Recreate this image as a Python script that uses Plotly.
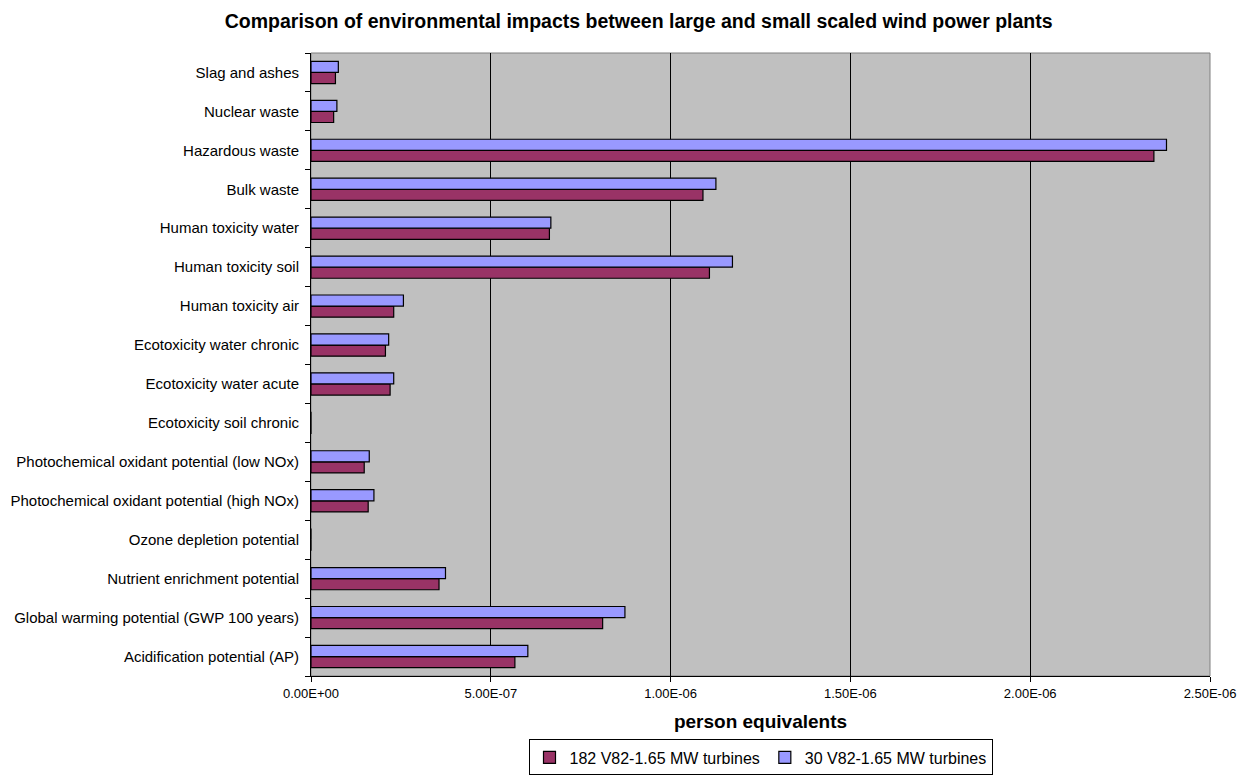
import plotly.graph_objects as go

# Impact categories (bottom to top)
categories = [
    "Acidification potential (AP)",
    "Global warming potential (GWP 100 years)",
    "Nutrient enrichment potential",
    "Ozone depletion potential",
    "Photochemical oxidant potential (high NOx)",
    "Photochemical oxidant potential (low NOx)",
    "Ecotoxicity soil chronic",
    "Ecotoxicity water acute",
    "Ecotoxicity water chronic",
    "Human toxicity air",
    "Human toxicity soil",
    "Human toxicity water",
    "Bulk waste",
    "Hazardous waste",
    "Nuclear waste",
    "Slag and ashes",
]

# person equivalents per category
large_plant = [5.67e-7, 8.11e-7, 3.56e-7, 0.0, 1.59e-7, 1.48e-7, 0.0, 2.20e-7,
               2.07e-7, 2.30e-7, 1.108e-6, 6.63e-7, 1.090e-6, 2.344e-6, 6.3e-8, 6.8e-8]
small_plant = [6.03e-7, 8.73e-7, 3.74e-7, 0.0, 1.75e-7, 1.62e-7, 0.0, 2.30e-7,
               2.16e-7, 2.57e-7, 1.172e-6, 6.67e-7, 1.126e-6, 2.379e-6, 7.2e-8, 7.6e-8]

series_names = ["182 V82-1.65 MW turbines", "30 V82-1.65 MW turbines"]

x_tick_vals = [0, 5e-7, 1e-6, 1.5e-6, 2e-6, 2.5e-6]
x_tick_text = ["0.00E+00", "5.00E-07", "1.00E-06", "1.50E-06", "2.00E-06", "2.50E-06"]

FONT = "Liberation Sans, Arial, sans-serif"

fig = go.Figure()
fig.add_trace(go.Bar(
    y=categories, x=large_plant, orientation="h", name=series_names[0],
    marker=dict(color="#993366", line=dict(color="#000000", width=1.2)),
))
fig.add_trace(go.Bar(
    y=categories, x=small_plant, orientation="h", name=series_names[1],
    marker=dict(color="#9999FF", line=dict(color="#000000", width=1.2)),
))

fig.update_layout(
    width=1245, height=778,
    margin=dict(l=311, r=35, t=53, b=102, autoexpand=False),
    paper_bgcolor="#FFFFFF",
    plot_bgcolor="#C0C0C0",
    barmode="group",
    bargap=0.43,
    bargroupgap=0,
    font=dict(family=FONT, color="#000000", size=15),
    title=dict(
        text="<b>Comparison of environmental impacts between large and small scaled wind power plants</b>",
        x=0.513, xanchor="center", xref="container",
        y=0.973, yanchor="middle", yref="container",
        font=dict(family=FONT, size=19.5, color="#000000"),
    ),
    legend=dict(
        orientation="h", x=0.5, xanchor="center",
        y=0.0495, yanchor="top", yref="container",
        bordercolor="#000000", borderwidth=1, bgcolor="#FFFFFF",
        font=dict(family=FONT, size=16),
        traceorder="normal",
        itemwidth=30,
    ),
    shapes=[dict(type="rect", xref="paper", yref="paper", x0=0, x1=1, y0=0, y1=1,
                 line=dict(color="#808080", width=1), layer="below")],
)

fig.update_xaxes(
    range=[0, 2.5e-6],
    automargin=False,
    tickvals=x_tick_vals, ticktext=x_tick_text,
    tickfont=dict(family=FONT, size=13),
    ticks="outside", ticklen=5, tickcolor="#000000",
    showgrid=True, gridcolor="#000000", gridwidth=1,
    zeroline=False,
    showline=True, linecolor="#000000", linewidth=1,
    title=dict(text="<b>person equivalents</b>", font=dict(family=FONT, size=19), standoff=15),
)
fig.update_yaxes(
    type="category",
    automargin=False,
    categoryorder="array", categoryarray=categories,
    tickson="boundaries",
    ticks="outside", ticklen=5, tickcolor="#000000",
    tickfont=dict(family=FONT, size=15),
    showgrid=False,
    showline=True, linecolor="#000000", linewidth=1,
    ticklabelstandoff=8,
)

fig.write_html("out.html")
